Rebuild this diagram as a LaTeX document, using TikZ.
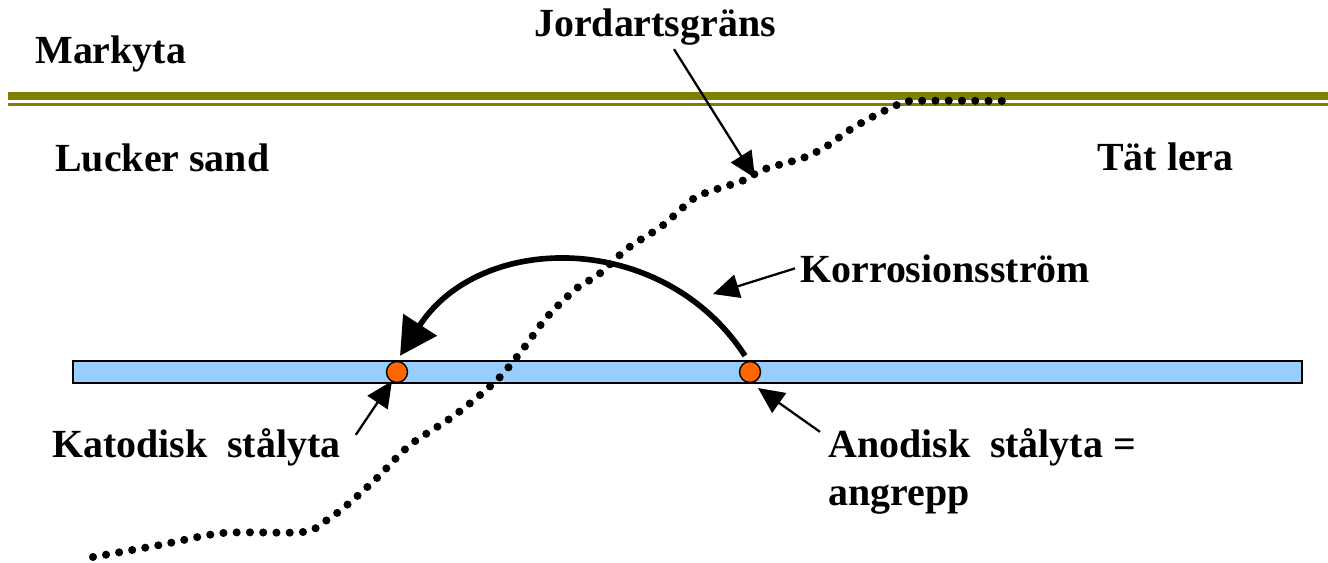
\documentclass[tikz,border=0pt]{standalone}
\usepackage{fontspec}
\setmainfont{Liberation Serif}
\usetikzlibrary{arrows.meta}
\definecolor{bandolive}{HTML}{808000}
\definecolor{pipeblue}{HTML}{99CCFF}
\definecolor{spotorange}{HTML}{FF6600}

\begin{document}
\begin{tikzpicture}[x=0.02cm, y=-0.02cm,
  every node/.style={font={\fontsize{22.7}{27}\selectfont\bfseries}, inner sep=0pt},
  lbl/.style={anchor=base west},
  spot/.style={circle, draw, line width=0.8pt, fill=spotorange, minimum size=0.42cm},
  ptr/.style={-{Triangle[length=0.52cm,width=0.48cm]}, line width=1.3pt},
  flow/.style={-{Triangle[length=0.74cm,width=0.78cm]}, line width=3.2pt},
  soilline/.style={line width=4.6pt, line cap=round, dash pattern=on 0pt off 7.55pt}]

  \useasboundingbox (0,0) rectangle (1328,562);

  %% Ground surface: double olive line
  \fill[bandolive] (8,92) rectangle (1328,100);
  \fill[bandolive] (8,103) rectangle (1328,105.5);

  %% Steel pipe
  \draw[fill=pipeblue, line width=0.8pt] (73,361) rectangle (1302,383);

  %% Soil boundary (dotted)
  \draw[soilline] plot[smooth, tension=0.5] coordinates {
    (93,557) (160,545) (223,533) (303,532) (327,520) (347,505) (377,478)
    (410,445) (455,415) (497,380) (523,349) (547,317) (577,288) (598,275)
    (628,248) (662,226) (693,199) (717,189) (742,181) (765,169) (803,158)
    (827,146) (848,131) (872,117) (895,106) (912,101) (1002,101)};
  \coordinate (bnd) at (755,178);

  %% Cathode and anode spots
  \node[spot] (cathode) at (397,372) {};
  \node[spot] (anode) at (750,372) {};

  % Corrosion current
  \draw[flow] ([shift={(-5,-5)}]anode.north)
    .. controls +(-81,-125) and +(81,-125) .. ([shift={(3,-5)}]cathode.north);
  \coordinate (arcpt) at (713,294);

  %% Labels
  \node[lbl] (markyta) at (35,63) {Markyta};
  \node[anchor=base] (grans) at (655,36) {Jordartsgräns};
  \node[lbl] (sand) at (55,171) {Lucker sand};
  \node[lbl] (lera) at (1097,170) {Tät lera};
  \node[lbl] (strom) at (800,282) {Korrosionsström};
  \node[lbl] (katod) at (52,457) {Katodisk\ \ stålyta};
  \node[lbl] (anod) at (828,457) {Anodisk\ \ stålyta =};
  \node[lbl] (angrepp) at ([yshift=-0.96cm]anod.base west) {angrepp};

  %% Pointers
  \draw[ptr] ([xshift=0.38cm, yshift=-0.08cm]grans.south) -- (bnd);
  \draw[ptr] ([xshift=-0.1cm]strom.west) -- (arcpt);
  \draw[ptr] ([shift={(15,-12)}]katod.east) -- ([shift={(-5,9)}]cathode.center);
  \draw[ptr] ([shift={(-8,-15)}]anod.west) -- ([shift={(8,16)}]anode.center);

\end{tikzpicture}
\end{document}
